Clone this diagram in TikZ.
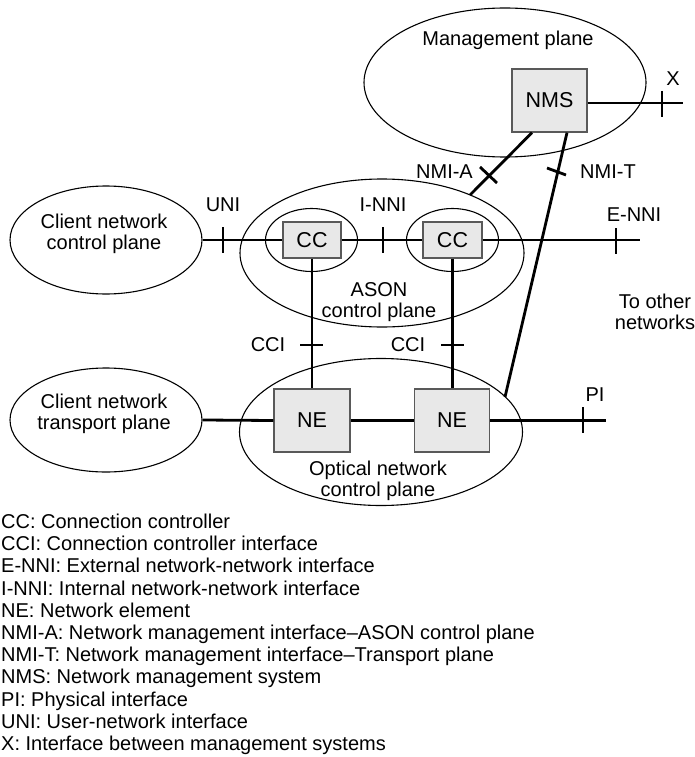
\documentclass[tikz,border=0pt]{standalone}
\usepackage{fontspec}
\setmainfont{Liberation Sans}
\usetikzlibrary{shapes.geometric,calc}
\begin{document}
\begin{tikzpicture}[x=1pt,y=-1pt,
  plane/.style={draw, ellipse, line width=1.1pt, inner sep=0pt},
  unit/.style={draw=black!65, fill=black!9, line width=1.3pt, inner sep=0pt,
    font=\fontsize{21.5}{24}\selectfont},
  link/.style={line width=2.8pt},
  lbl/.style={font=\fontsize{20}{21.5}\selectfont, inner sep=0pt, align=center},
  legend/.style={font=\fontsize{20}{22.5}\selectfont, inner sep=0pt, anchor=base west},
]
\useasboundingbox (0,0) rectangle (695,757);

% planes
\node[plane, minimum width=282pt, minimum height=149pt] (mgmt) at (505,82.5) {};
\node[plane, minimum width=192pt, minimum height=108pt] (cnc) at (106,240) {};
\node[plane, minimum width=284pt, minimum height=148pt] (ason) at (382,253) {};
\node[plane, minimum width=92pt, minimum height=63pt] (cce1) at (311.5,240) {};
\node[plane, minimum width=92pt, minimum height=63pt] (cce2) at (452.5,240) {};
\node[plane, minimum width=192pt, minimum height=104pt] (ctp) at (106,420) {};
\node[plane, minimum width=283pt, minimum height=147pt] (onc) at (381,432) {};

% plane captions
\node[lbl] (mgmtl) at (508,40) {Management plane};
\node[lbl] (cncl) at (104,234) {Client network\\control plane};
\node[lbl] (asonl) at (379,302) {ASON\\control plane};
\node[lbl] (ctpl) at (104,414) {Client network\\transport plane};
\node[lbl] (oncl) at (378,481) {Optical network\\control plane};
\node[lbl] (other) at (655,312) {To other\\networks};

% functional units
\node[unit, minimum width=75pt, minimum height=63pt] (nms) at (549.5,100.5) {NMS};
\node[unit, minimum width=58pt, minimum height=36pt] (cc1) at (312,240) {CC};
\node[unit, minimum width=59pt, minimum height=36pt] (cc2) at (452.5,240) {CC};
\node[unit, minimum width=76pt, minimum height=63pt] (ne1) at (312,420.5) {NE};
\node[unit, minimum width=75pt, minimum height=63pt] (ne2) at (452,420.5) {NE};

% open ends of the interfaces
\coordinate (xend) at (683,103);
\coordinate (enniend) at (640,240);
\coordinate (piend) at (606,420.5);
\coordinate (nmiaend) at (470,195);
\coordinate (nmitend) at (505,397);

% links
\draw[link] (nms.east |- xend) -- (xend);
\draw[link] (cnc.east) -- (cc1.west);
\draw[link] (cc1.east) -- (cc2.west);
\draw[link] (cc2.east) -- (enniend);
\draw[link] (cc1.south) -- (ne1.north);
\draw[link] (cc2.south) -- (cc2.south |- ne2.north);
\draw[link] (ctp.east) -- (ne1.west);
\draw[link] (ne1.east) -- (ne2.west);
\draw[link] (ne2.east) -- (piend);
\draw[link] ([xshift=-17.5pt]nms.south) -- (nmiaend);
\draw[link] ([xshift=17.5pt]nms.south) -- (nmitend);

% interface marks
\draw[link] (662,91) -- (662,117);
\draw[link] (223,227) -- (223,253);
\draw[link] (383,227) -- (383,253);
\draw[link] (616,228) -- (616,254);
\draw[link] (583,407) -- (583,433);
\draw[link] (300,345) -- (323,345);
\draw[link] (441,345) -- (464,345);
\draw[link] (480,167) -- (497,183);
\draw[link] (547,168) -- (566,175);

% interface names
\node[lbl] (xl) at (673,79) {X};
\node[lbl] (unil) at (223,205) {UNI};
\node[lbl] (innil) at (383,205) {I-NNI};
\node[lbl] (ennil) at (634,215) {E-NNI};
\node[lbl] (pil) at (595,395) {PI};
\node[lbl] (nmial) at (444.5,172) {NMI-A};
\node[lbl] (nmitl) at (608,172) {NMI-T};
\node[lbl] (ccil1) at (268,345) {CCI};
\node[lbl] (ccil2) at (408,345) {CCI};

% abbreviations
\foreach \t [count=\i from 0] in {
  CC: Connection controller,
  CCI: Connection controller interface,
  E-NNI: External network-network interface,
  I-NNI: Internal network-network interface,
  NE: Network element,
  NMI-A: Network management interface–ASON control plane,
  NMI-T: Network management interface–Transport plane,
  NMS: Network management system,
  PI: Physical interface,
  UNI: User-network interface,
  X: Interface between management systems}
  \node[legend] (leg\i) at (1,528.5+22.2*\i) {\t};
\end{tikzpicture}
\end{document}
